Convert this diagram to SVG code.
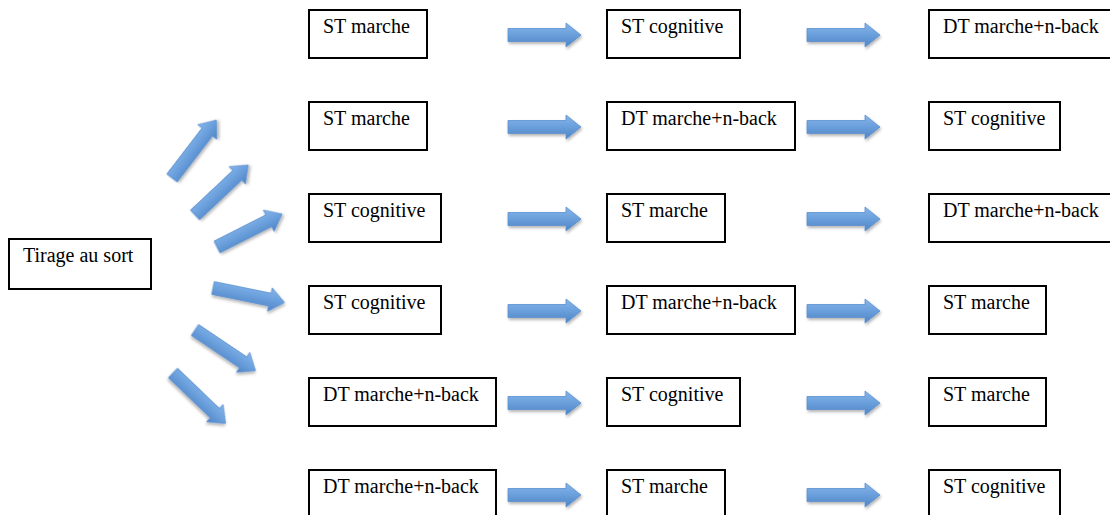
<svg xmlns="http://www.w3.org/2000/svg" width="1110" height="515" viewBox="0 0 1110 515">
<style>
.box{fill:#fff;stroke:#000;stroke-width:2}
.lbl{font-family:"Liberation Serif","Times New Roman",serif;font-size:20px;fill:#000}
.arr{fill:url(#ag);stroke:#5a8fcf;stroke-width:0.8;filter:url(#sh)}
</style>
<defs>
<linearGradient id="ag" x1="0" y1="0" x2="0" y2="1">
<stop offset="0" stop-color="#86b6ea"/>
<stop offset="0.5" stop-color="#6a9fdc"/>
<stop offset="1" stop-color="#4f84c4"/>
</linearGradient>
<filter id="sh" x="-20%" y="-50%" width="140%" height="200%">
<feDropShadow dx="1" dy="2" stdDeviation="1.5" flood-color="#000" flood-opacity="0.3"/>
</filter>
<path id="ar" d="M0,-6.5 H58 V-12 L73,0 L58,12 V6.5 H0 Z"/>
</defs>

<g id="tirage"><rect class="box" x="9" y="239" width="142" height="50"/><text class="lbl" x="23" y="262">Tirage au sort</text></g>

<g id="r1c1"><rect class="box" x="309" y="10" width="118" height="48"/><text class="lbl" x="323" y="33">ST marche</text></g>
<g id="r1c2"><rect class="box" x="607" y="10" width="133" height="48"/><text class="lbl" x="621" y="33">ST cognitive</text></g>
<g id="r1c3"><rect class="box" x="929" y="10" width="190" height="48"/><text class="lbl" x="943" y="33">DT marche+n-back</text></g>

<g id="r2c1"><rect class="box" x="309" y="102" width="118" height="48"/><text class="lbl" x="323" y="125">ST marche</text></g>
<g id="r2c2"><rect class="box" x="607" y="102" width="188" height="48"/><text class="lbl" x="621" y="125">DT marche+n-back</text></g>
<g id="r2c3"><rect class="box" x="929" y="102" width="131" height="48"/><text class="lbl" x="943" y="125">ST cognitive</text></g>

<g id="r3c1"><rect class="box" x="309" y="194" width="132" height="48"/><text class="lbl" x="323" y="217">ST cognitive</text></g>
<g id="r3c2"><rect class="box" x="607" y="194" width="118" height="48"/><text class="lbl" x="621" y="217">ST marche</text></g>
<g id="r3c3"><rect class="box" x="929" y="194" width="190" height="48"/><text class="lbl" x="943" y="217">DT marche+n-back</text></g>

<g id="r4c1"><rect class="box" x="309" y="286" width="132" height="48"/><text class="lbl" x="323" y="309">ST cognitive</text></g>
<g id="r4c2"><rect class="box" x="607" y="286" width="188" height="48"/><text class="lbl" x="621" y="309">DT marche+n-back</text></g>
<g id="r4c3"><rect class="box" x="929" y="286" width="117" height="48"/><text class="lbl" x="943" y="309">ST marche</text></g>

<g id="r5c1"><rect class="box" x="309" y="378" width="187" height="48"/><text class="lbl" x="323" y="401">DT marche+n-back</text></g>
<g id="r5c2"><rect class="box" x="607" y="378" width="133" height="48"/><text class="lbl" x="621" y="401">ST cognitive</text></g>
<g id="r5c3"><rect class="box" x="929" y="378" width="117" height="48"/><text class="lbl" x="943" y="401">ST marche</text></g>

<g id="r6c1"><rect class="box" x="309" y="470" width="187" height="48"/><text class="lbl" x="323" y="493">DT marche+n-back</text></g>
<g id="r6c2"><rect class="box" x="607" y="470" width="118" height="48"/><text class="lbl" x="621" y="493">ST marche</text></g>
<g id="r6c3"><rect class="box" x="929" y="470" width="131" height="48"/><text class="lbl" x="943" y="493">ST cognitive</text></g>

<g id="connectors">
<use href="#ar" class="arr" transform="translate(172,178) rotate(-52.5)"/>
<use href="#ar" class="arr" transform="translate(195,215) rotate(-43.2)"/>
<use href="#ar" class="arr" transform="translate(217,247) rotate(-26.9)"/>
<use href="#ar" class="arr" transform="translate(213,288) rotate(11.5)"/>
<use href="#ar" class="arr" transform="translate(195,330) rotate(33.9)"/>
<use href="#ar" class="arr" transform="translate(173,373) rotate(43.8)"/>

<use href="#ar" class="arr" transform="translate(508,35)"/>
<use href="#ar" class="arr" transform="translate(508,127)"/>
<use href="#ar" class="arr" transform="translate(508,219)"/>
<use href="#ar" class="arr" transform="translate(508,311)"/>
<use href="#ar" class="arr" transform="translate(508,403)"/>
<use href="#ar" class="arr" transform="translate(508,495)"/>

<use href="#ar" class="arr" transform="translate(807,35)"/>
<use href="#ar" class="arr" transform="translate(807,127)"/>
<use href="#ar" class="arr" transform="translate(807,219)"/>
<use href="#ar" class="arr" transform="translate(807,311)"/>
<use href="#ar" class="arr" transform="translate(807,403)"/>
<use href="#ar" class="arr" transform="translate(807,495)"/>
</g>
</svg>
